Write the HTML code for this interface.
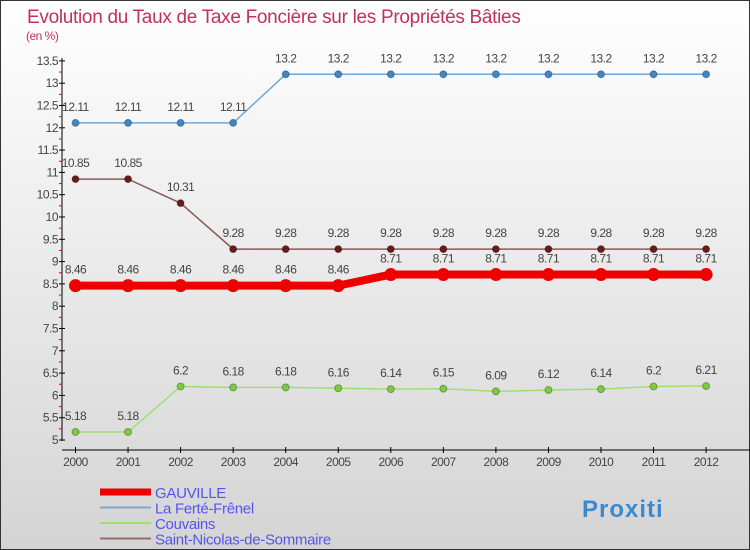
<!DOCTYPE html>
<html><head><meta charset="utf-8"><style>
body{margin:0}
#c{width:750px;height:550px;position:relative;overflow:hidden;background:linear-gradient(#ffffff,#d4d4d4);font-family:"Liberation Sans",sans-serif}
</style></head><body>
<div id="c">
<svg id="s" width="750" height="550" style="position:absolute;left:0;top:0"></svg>
</div>
<script>
const years=[2000,2001,2002,2003,2004,2005,2006,2007,2008,2009,2010,2011,2012];
const gauville=[8.46,8.46,8.46,8.46,8.46,8.46,8.71,8.71,8.71,8.71,8.71,8.71,8.71];
const ferte=[12.11,12.11,12.11,12.11,13.2,13.2,13.2,13.2,13.2,13.2,13.2,13.2,13.2];
const couvains=[5.18,5.18,6.2,6.18,6.18,6.16,6.14,6.15,6.09,6.12,6.14,6.2,6.21];
const stnicolas=[10.85,10.85,10.31,9.28,9.28,9.28,9.28,9.28,9.28,9.28,9.28,9.28,9.28];
const yTicks=[5,5.5,6,6.5,7,7.5,8,8.5,9,9.5,10,10.5,11,11.5,12,12.5,13,13.5];
const NS="http://www.w3.org/2000/svg";
const svg=document.getElementById('s');
function X(i){return 75.5+i*52.55;}
function Y(v){return 440-(v-5)*44.6;}
function mk(t,a,p){const e=document.createElementNS(NS,t);for(const k in a)e.setAttribute(k,a[k]);(p||svg).appendChild(e);return e;}
function txt(x,y,s,a){const e=mk('text',Object.assign({x:x,y:y,'font-size':12,fill:'#444','font-family':'Liberation Sans, sans-serif','letter-spacing':'-0.5'},a||{}));e.textContent=s;return e;}
// frame
mk('rect',{x:0.5,y:0.5,width:749,height:549,fill:'none',stroke:'#333'});
let t=txt(27,23,'Evolution du Taux de Taxe Foncière sur les Propriétés Bâties',{'font-size':19,fill:'#c0325a','letter-spacing':'-0.3'});

t=txt(26,40,'(en %)',{'font-size':12,fill:'#c0325a'});

// axes
let ax=mk('line',{x1:62,y1:58,x2:62,y2:441,stroke:'#000'});

yTicks.forEach(v=>{const y=Y(v);mk('line',{x1:59,y1:y,x2:65,y2:y,stroke:'#000'});
 mk('line',{x1:59,y1:y-11.15,x2:62,y2:y-11.15,stroke:v<13.5?'#e00':'none'});
 const l=txt(58,y+4,String(v),{'text-anchor':'end'});});
ax=mk('line',{x1:62,y1:450,x2:750,y2:450,stroke:'#000'});

years.forEach((yr,i)=>{mk('line',{x1:X(i),y1:447,x2:X(i),y2:453,stroke:'#000'});
 const l=txt(X(i),466,String(yr),{'text-anchor':'middle'});});
function series(name,data,col,dot,w,r){
 const g=mk('g',{});
 mk('polyline',{points:data.map((v,i)=>X(i)+','+Y(v)).join(' '),fill:'none',stroke:col,'stroke-width':w},g);
 data.forEach((v,i)=>{const c=mk('circle',{cx:X(i),cy:Y(v),r:r,fill:dot,stroke:w>3?dot:'rgba(0,0,0,0.3)'},g);
  
  txt(X(i),Y(v)-12,String(v),{'text-anchor':'middle'},g);});
}
series('ferte-frenel-series',ferte,'#6fa8d8','#3f88c5',1.5,3.5);
series('st-nicolas-series',stnicolas,'#8a5a5a','#6b1a1a',1.5,3.5);
series('couvains-series',couvains,'#9de070','#7ccc3c',1.5,3.5);
series('gauville-series',gauville,'#ee0000','#ee0000',8,6);
// legend
const leg=[['GAUVILLE','#ee0000',7],['La Ferté-Frênel','#7fa8c8',2],['Couvains','#9de070',2],['Saint-Nicolas-de-Sommaire','#9a6a6a',2]];
leg.forEach((l,i)=>{const y=492+i*15.5;const g=mk('g',{});
 mk('line',{x1:100,y1:y,x2:151,y2:y,stroke:l[1],'stroke-width':l[2]},g);
 txt(155,y+6,l[0],{'font-size':15,fill:'#5555ee','letter-spacing':'-0.3'},g);});
t=txt(582,517,'Proxiti',{'font-size':24,'font-weight':'bold',fill:'#3a8ad0','letter-spacing':'1'});

</script>
</body></html>
